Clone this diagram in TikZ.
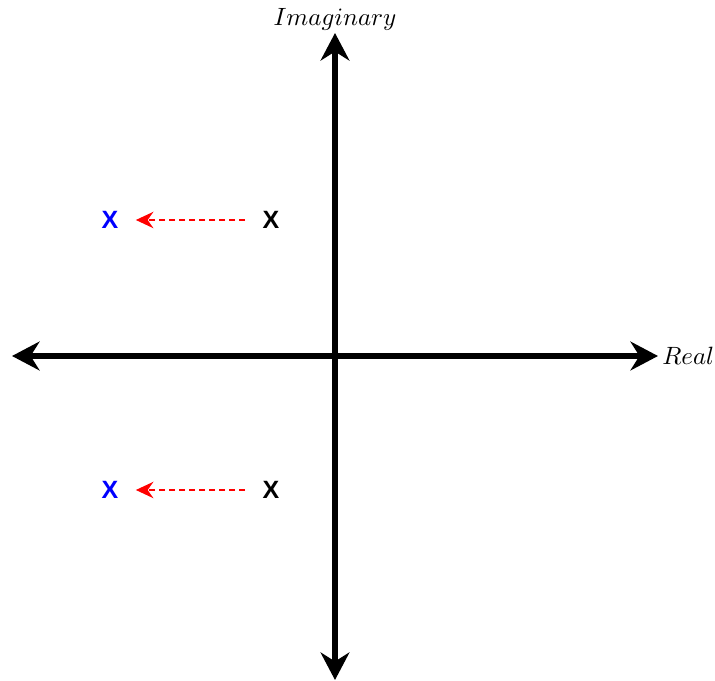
\documentclass[tikz,border=0pt]{standalone}
\usepackage{fontspec}
\usetikzlibrary{arrows.meta}
\newfontfamily\polefont{Liberation Sans}

\begin{document}
\begin{tikzpicture}[
  x=0.4pt, y=-0.4pt,
  axis/.style={line width=2.1pt, {Stealth[length=11pt,width=11.5pt]}-{Stealth[length=11pt,width=11.5pt]}},
  pole/.style={font=\polefont\bfseries, inner xsep=6.8pt, inner ysep=2pt},
  moved/.style={red, line width=0.9pt, dash pattern=on 2.4pt off 1.6pt, -{Stealth[length=7pt,width=6.5pt]}}
]
\useasboundingbox (0,0) rectangle (715,681);
\coordinate (reL) at (12,356);
\coordinate (reR) at (658,356);
\coordinate (imT) at (335,33);
\coordinate (imB) at (335,680);
\draw[axis] (reL) -- (reR);
\draw[axis] (imB) -- (imT);
\node[anchor=west, inner sep=1.5pt] (relab) at (reR) {$Real$};
\node[anchor=south, inner sep=1pt] (imlab) at (imT) {$Imaginary$};
% poles
\node[pole] (p1) at (271,220) {X};
\node[pole] (p2) at (271,490) {X};
\node[pole, blue] (q1) at (110,220) {X};
\node[pole, blue] (q2) at (110,490) {X};
\draw[moved] (p1) -- (q1);
\draw[moved] (p2) -- (q2);
\end{tikzpicture}
\end{document}
